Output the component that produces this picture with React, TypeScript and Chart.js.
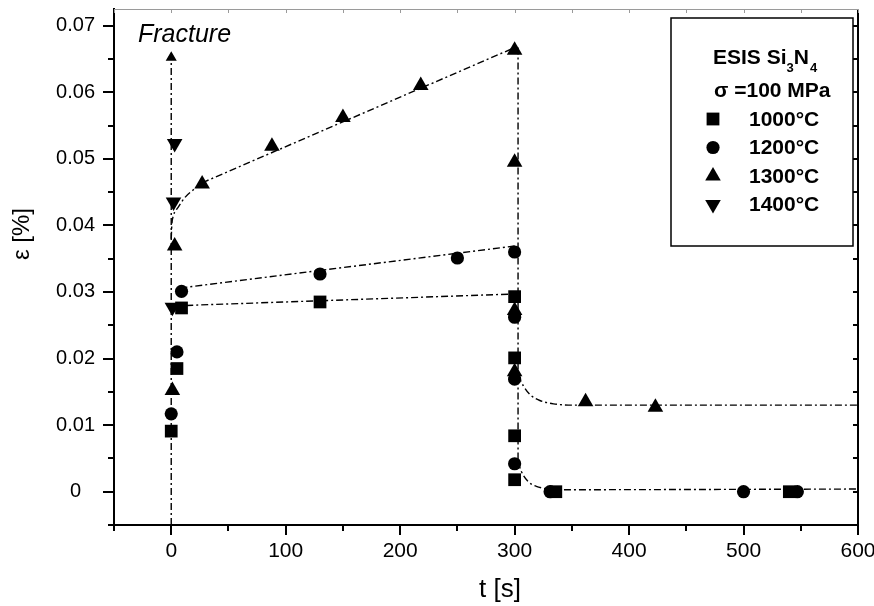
import React, { useEffect, useRef } from "react";
import { Chart, registerables } from "chart.js";

Chart.register(...registerables);

// ---- measured data (t in s, strain in %) ----
const t1000 = [0, 5, 9, 130, 300, 300, 300, 300, 336, 540];
const e1000 = [0.0091, 0.0185, 0.0276, 0.0285, 0.0293, 0.0201, 0.0084, 0.0018, 0, 0];

const t1200 = [0, 5, 9, 130, 250, 300, 300, 300, 300, 331, 500, 547];
const e1200 = [0.0117, 0.021, 0.0301, 0.0327, 0.0351, 0.036, 0.0262, 0.0169, 0.0042, 0, 0, 0];

const t1300 = [1, 3, 27, 88, 150, 218, 300, 300, 300, 300, 362, 423];
const e1300 = [0.0152, 0.0369, 0.0462, 0.0519, 0.0562, 0.061, 0.0663, 0.0495, 0.0272, 0.018, 0.0135, 0.0127];

const t1400 = [3, 2, 1];
const e1400 = [0.0523, 0.0435, 0.0277];

// fitted guide curves
const tFit1000 = [0, 300];
const eFit1000 = [0.0279, 0.0297];
const tFit1200 = [8, 300];
const eFit1200 = [0.0306, 0.0369];
const tFit1300a = [0, 0.5, 2, 6, 12, 19, 27];
const eFit1300a = [0.038, 0.04, 0.0415, 0.0427, 0.0442, 0.0453, 0.0462];
const tFit1300b = [27, 300];
const eFit1300b = [0.0464, 0.0667];
const tDrop = [303, 303];
const eDrop = [0.0667, 0.0045];
const tTail1300 = [303, 308, 314, 322, 334, 350, 600];
const eTail1300 = [0.0175, 0.0158, 0.0145, 0.0137, 0.0132, 0.013, 0.013];
const tTailLow = [303, 306, 312, 319, 326, 334, 600];
const eTailLow = [0.0045, 0.003, 0.0015, 0.0008, 0.0005, 0.0003, 0.0004];
const tFracture = [0, 0];
const eFracture = [-0.005, 0.0652];

const xMin = -50, xMax = 600, xStep = 100;
const yMin = -0.005, yMax = 0.0725, yStep = 0.01;

const legendLabels = ["1000°C", "1200°C", "1300°C", "1400°C"];
const legendShapes = ["rect", "circle", "triangle", "triangleDown"];

const FONT = '"Liberation Sans", Arial, sans-serif';
const DASH = [7, 3, 2, 3];

const pts = (t: number[], e: number[]) => t.map((x, i) => ({ x, y: e[i] }));

const markerSet = (label: string, t: number[], e: number[], style: string, r: number, rot = 0) => ({
  label,
  data: pts(t, e),
  showLine: false,
  pointStyle: style,
  pointRotation: rot,
  pointRadius: r,
  pointHoverRadius: r,
  backgroundColor: "#000",
  borderColor: "#000",
  borderWidth: 0,
  order: 0,
});

const lineSet = (t: number[], e: number[], curve = false) => ({
  label: "",
  data: pts(t, e),
  showLine: true,
  pointRadius: 0,
  borderColor: "#000",
  borderWidth: 1.4,
  borderDash: DASH,
  fill: false,
  cubicInterpolationMode: curve ? "monotone" : "default",
  order: 1,
});

function drawShape(ctx: CanvasRenderingContext2D, shape: string, x: number, y: number) {
  ctx.beginPath();
  if (shape === "rect") {
    const s = 6.4;
    ctx.rect(x - s, y - s, 2 * s, 2 * s);
  } else if (shape === "circle") {
    ctx.arc(x, y, 6.6, 0, Math.PI * 2);
  } else if (shape === "triangle") {
    const r = 9;
    ctx.moveTo(x, y - r);
    ctx.lineTo(x + r * 0.866, y + r / 2);
    ctx.lineTo(x - r * 0.866, y + r / 2);
    ctx.closePath();
  } else {
    const r = 9;
    ctx.moveTo(x, y + r);
    ctx.lineTo(x + r * 0.866, y - r / 2);
    ctx.lineTo(x - r * 0.866, y - r / 2);
    ctx.closePath();
  }
  ctx.fill();
}

const decor = {
  id: "decor",
  afterDraw(chart: any) {
    const { ctx, chartArea, scales } = chart;
    const { left, right, top, bottom } = chartArea;
    const xs = scales.x, ys = scales.y;
    ctx.save();
    ctx.lineCap = "butt";
    // right border
    ctx.strokeStyle = "#000";
    ctx.lineWidth = 2;
    ctx.beginPath();
    ctx.moveTo(right, top);
    ctx.lineTo(right, bottom + 1);
    ctx.stroke();
    // top border
    ctx.strokeStyle = "#9a9a9a";
    ctx.lineWidth = 1;
    ctx.beginPath();
    ctx.moveTo(left, top + 0.5);
    ctx.lineTo(right, top + 0.5);
    ctx.stroke();
    // y ticks
    for (let k = -1; k <= 14; k++) {
      const py = Math.round(ys.getPixelForValue(k * 0.005));
      const major = k % 2 === 0;
      ctx.strokeStyle = "#000";
      ctx.lineWidth = 2;
      ctx.beginPath();
      ctx.moveTo(left - (major ? 11 : 6), py);
      ctx.lineTo(left, py);
      ctx.moveTo(right, py);
      ctx.lineTo(right - 5, py);
      ctx.stroke();
    }
    // x ticks
    for (let k = -1; k <= 12; k++) {
      const px = Math.round(xs.getPixelForValue(k * 50));
      const major = k % 2 === 0;
      ctx.strokeStyle = "#000";
      ctx.lineWidth = 2;
      ctx.beginPath();
      ctx.moveTo(px, bottom);
      ctx.lineTo(px, bottom + (major ? 10 : 6));
      ctx.stroke();
      ctx.strokeStyle = "#9a9a9a";
      ctx.lineWidth = 1;
      ctx.beginPath();
      ctx.moveTo(px + 0.5, top);
      ctx.lineTo(px + 0.5, top + 4);
      ctx.stroke();
    }
    // axis titles
    ctx.fillStyle = "#000";
    ctx.font = `26px ${FONT}`;
    ctx.textAlign = "center";
    ctx.textBaseline = "middle";
    ctx.fillText("t [s]", (left + right) / 2 + 14, bottom + 65);
    ctx.save();
    ctx.translate(22, (top + bottom) / 2 - 33);
    ctx.rotate(-Math.PI / 2);
    ctx.font = `24px ${FONT}`;
    ctx.fillText("ε [%]", 0, 0);
    ctx.restore();
    // Fracture label
    ctx.font = `italic 25px ${FONT}`;
    ctx.textAlign = "left";
    ctx.textBaseline = "alphabetic";
    ctx.fillText("Fracture", left + 24, top + 33);
    // legend box
    const bx = right - 187, by = top + 9, bw = 182, bh = 228;
    ctx.fillStyle = "#fff";
    ctx.fillRect(bx, by, bw, bh);
    ctx.strokeStyle = "#000";
    ctx.lineWidth = 1.5;
    ctx.strokeRect(bx, by, bw, bh);
    ctx.fillStyle = "#000";
    ctx.font = `bold 21px ${FONT}`;
    ctx.textBaseline = "alphabetic";
    let cx = bx + 42;
    const base1 = by + 46;
    ctx.fillText("ESIS Si", cx, base1);
    cx += ctx.measureText("ESIS Si").width;
    ctx.font = `bold 13px ${FONT}`;
    ctx.fillText("3", cx, base1 + 8);
    cx += ctx.measureText("3").width;
    ctx.font = `bold 21px ${FONT}`;
    ctx.fillText("N", cx, base1);
    cx += ctx.measureText("N").width;
    ctx.font = `bold 13px ${FONT}`;
    ctx.fillText("4", cx + 1, base1 + 8);
    ctx.font = `bold 21px ${FONT}`;
    ctx.fillText("σ =100 MPa", bx + 43, by + 79);
    ctx.textBaseline = "middle";
    legendLabels.forEach((lab, i) => {
      const ry = by + 101 + i * 28.5;
      drawShape(ctx, legendShapes[i], bx + 42, ry);
      ctx.fillText(lab, bx + 78, ry + 1);
    });
    ctx.restore();
  },
};

export default function App() {
  const ref = useRef<HTMLCanvasElement | null>(null);
  useEffect(() => {
    if (!ref.current) return;
    const chart = new Chart(ref.current, {
      type: "scatter",
      data: {
        datasets: [
          markerSet("1000°C", t1000, e1000, "rect", 9),
          markerSet("1200°C", t1200, e1200, "circle", 6.6),
          markerSet("1300°C", t1300, e1300, "triangle", 9),
          markerSet("1400°C", t1400, e1400, "triangle", 9, 180),
          lineSet(tFit1000, eFit1000),
          lineSet(tFit1200, eFit1200),
          lineSet(tFit1300a, eFit1300a, true),
          lineSet(tFit1300b, eFit1300b),
          lineSet(tDrop, eDrop),
          lineSet(tTail1300, eTail1300, true),
          lineSet(tTailLow, eTailLow, true),
          {
            ...lineSet(tFracture, eFracture),
            pointRadius: [0, 5],
            pointStyle: "triangle",
            backgroundColor: "#000",
          },
        ] as any,
      },
      options: {
        animation: false,
        responsive: false,
        maintainAspectRatio: false,
        events: [],
        layout: { padding: { top: 8, right: 16, bottom: 0, left: 0 } },
        plugins: { legend: { display: false }, tooltip: { enabled: false } },
        scales: {
          x: {
            type: "linear",
            min: xMin,
            max: xMax,
            grid: { display: false, drawTicks: false },
            border: { display: true, color: "#000", width: 2 },
            ticks: {
              stepSize: xStep,
              includeBounds: false,
              color: "#000",
              padding: 14,
              maxRotation: 0,
              autoSkip: false,
              font: { size: 21, family: FONT },
              callback: (v: any) => String(v),
            },
            afterFit: (s: any) => {
              s.height = 81;
              s.paddingLeft = 0;
              s.paddingRight = 0;
            },
          },
          y: {
            type: "linear",
            min: yMin,
            max: yMax,
            grid: { display: false, drawTicks: false },
            border: { display: true, color: "#000", width: 2 },
            ticks: {
              stepSize: yStep,
              includeBounds: false,
              color: "#000",
              padding: 19,
              crossAlign: "center",
              autoSkip: false,
              font: { size: 20, family: FONT },
              callback: (v: any) => {
                const r = Math.round(Number(v) * 100) / 100;
                return r === 0 ? "0" : String(r);
              },
            },
            afterFit: (s: any) => {
              s.width = 114;
              s.paddingTop = 0;
              s.paddingBottom = 0;
            },
          },
        },
      } as any,
      plugins: [decor],
    });
    return () => chart.destroy();
  }, []);
  return (
    <div style={{ position: "fixed", left: 0, top: 0, width: 874, height: 606, background: "#fff" }}>
      <canvas ref={ref} width={874} height={606} style={{ display: "block" }} />
    </div>
  );
}
